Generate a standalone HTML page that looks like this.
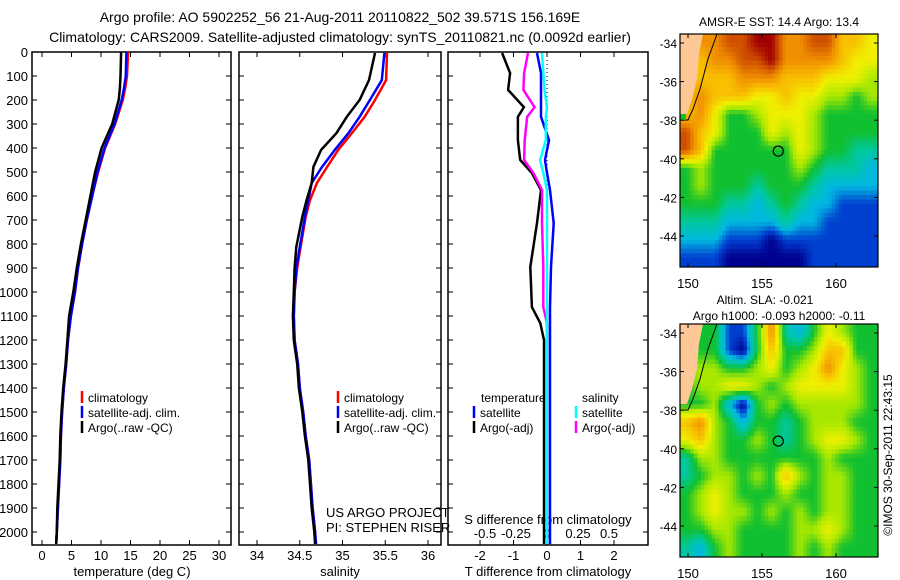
<!DOCTYPE html>
<html><head><meta charset="utf-8">
<style>
body{margin:0;background:#fff;}
svg{display:block;font-family:"Liberation Sans",sans-serif;}
text{fill:#000;}
</style></head>
<body>
<svg id="c" width="900" height="580" xmlns="http://www.w3.org/2000/svg">
<defs>
<clipPath id="m1c"><rect x="680" y="34" width="198" height="233"/></clipPath>
<clipPath id="m2c"><rect x="680" y="324" width="198" height="233"/></clipPath>
</defs>
<text x="340" y="22" font-size="14" text-anchor="middle">Argo profile: AO 5902252_56 21-Aug-2011 20110822_502 39.571S 156.169E</text>
<text x="340" y="42" font-size="14" text-anchor="middle">Climatology: CARS2009. Satellite-adjusted climatology: synTS_20110821.nc (0.0092d earlier)</text>
<g id="g"></g>
</svg>
<script>
const depths=[0,100,150,200,300,400,500,600,700,800,900,1000,1100,1200,1300,1400,1500,1600,1700,1800,1900,2000,2050];
const tClim=[14.6,14.4,14.1,13.7,12.4,10.7,9.5,8.5,7.6,6.8,6.1,5.6,4.9,4.4,4.1,3.7,3.4,3.2,3.1,2.9,2.7,2.5,2.4];
const tSat=[14.3,14.2,13.9,13.5,12.3,10.6,9.4,8.5,7.6,6.8,6.1,5.6,4.9,4.4,4.1,3.7,3.4,3.2,3.1,2.9,2.7,2.5,2.4];
const tArgo=[13.4,13.3,13.2,13.0,11.9,10.1,9.0,8.2,7.4,6.6,5.9,5.3,4.6,4.3,4.0,3.6,3.3,3.1,3.0,2.8,2.6,2.5,2.4];
const sDepths=[4,117,200,270,338,408,479,546,617,687,812,900,1000,1100,1200,1300,1400,1500,1600,1700,1800,1900,2000,2050];
const sClim=[35.52,35.51,35.38,35.26,35.11,34.95,34.82,34.70,34.62,34.57,34.51,34.47,34.44,34.43,34.44,34.48,34.5,34.54,34.57,34.61,34.63,34.65,34.68,34.69];
const sSat=[35.49,35.46,35.32,35.2,35.07,34.91,34.76,34.64,34.6,34.56,34.5,34.46,34.44,34.43,34.44,34.48,34.5,34.54,34.57,34.61,34.63,34.65,34.68,34.69];
const sArgo=[35.38,35.31,35.2,35.05,34.93,34.75,34.66,34.64,34.58,34.53,34.46,34.44,34.43,34.42,34.43,34.47,34.49,34.53,34.56,34.60,34.62,34.64,34.67,34.68];
const dDepths=[4,88,158,230,270,367,450,504,575,713,896,1063,1130,1200,1500,2050];
const dTArgo=[-1.34,-1.1,-1.16,-0.69,-0.87,-0.87,-0.8,-0.45,-0.18,-0.3,-0.5,-0.45,-0.2,-0.09,-0.09,-0.09];
const dTSat=[-0.3,-0.18,-0.18,-0.18,-0.18,0.06,-0.06,0.0,0.09,0.2,0.12,0.09,0.09,0.09,0.09,0.09];
const dSArgo=[-0.153,-0.185,-0.19,-0.1,-0.16,-0.18,-0.185,-0.11,-0.04,-0.04,-0.03,-0.03,0,0,0,0];
const dSSat=[-0.04,-0.03,-0.02,0,-0.01,-0.01,-0.056,-0.03,0,0,0,0,0,0,0,0];
const tTicks=[0,5,10,15,20,25,30];
const sTicks=[34,34.5,35,35.5,36];
const dtTicks=[-2,-1,0,1,2];
const dsTicks=[-0.5,-0.25,0,0.25,0.5];
const depthTicks=[0,100,200,300,400,500,600,700,800,900,1000,1100,1200,1300,1400,1500,1600,1700,1800,1900,2000];
const lonTicks=[150,155,160];
const latTicks=[-34,-36,-38,-40,-42,-44];
const sstGrid=[
[null,7,7,8,8,9,9,7,7,8,8,6,6,5],
[null,6,7,7,8,8,9,7,7,7,7,6,5,5],
[null,6,6,6,7,7,7,6,6,6,5,5,5,4],
[6,7,6,6,6,5,5,6,5,5,4,4,3,4],
[6,7,5,3,3,4,5,5,5,4,3,3,3,3],
[8,6,5,3,3,3,5,4,5,4,3,3,3,3],
[8,6,3,3,3,3,3,3,5,4,3,3,2,2],
[3,4,3,3,3,3,3,3,4,3,2,2,2,1],
[3,4,3,3,3,2,3,3,3,2,1,1,1,1],
[3,3,3,2,2,1,2,3,2,1,1,0,0,0],
[2,2,2,1,1,1,1,2,1,1,0,0,0,0],
[1,1,1,0,0,0,-1,0,0,0,0,0,0,0],
[0,0,0,-1,-1,-1,-1,-1,-1,0,0,0,0,0]];
const slaGrid=[
[null,3,3,0,0,3,7,2,1,3,5,4,3,3],
[null,3,3,0,-1,3,6,3,3,4,6,6,3,3],
[null,4,4,3,3,4,5,3,4,5,7,5,4,3],
[3,4,4,5,5,4,3,4,5,5,5,5,4,3],
[3,3,4,1,-1,3,4,3,4,4,4,4,4,3],
[6,7,4,3,1,3,3,2,3,4,4,4,3,3],
[5,6,4,3,3,4,3,2,3,4,5,5,4,3],
[2,4,4,3,3,3,3,3,3,3,4,3,3,3],
[2,3,4,4,3,4,3,6,4,3,4,4,3,3],
[3,4,5,4,3,3,3,4,3,3,4,4,3,3],
[3,4,5,4,4,3,4,3,4,3,4,4,3,3],
[3,3,4,4,3,3,3,3,4,4,5,4,3,3],
[2,1,3,4,3,3,3,3,4,3,4,3,3,3]];
const argoPos=[156.1,-39.6];

const NS='http://www.w3.org/2000/svg';
const G=document.getElementById('g');
function mk(t,a,p){const e=document.createElementNS(NS,t);for(const k in a)e.setAttribute(k,a[k]);(p||G).appendChild(e);return e;}
const PT=52,PB=545;
const yD=d=>PT+d*0.24;
const xT=v=>42+v*5.9;
const xS=v=>257+(v-34)*85.5;
const xDT=v=>547+v*33.5;
const xDS=v=>547+v*124;
const panels=[[32,231],[239,441],[448,648]];
panels.forEach((p,i)=>{
  const r=mk('rect',{x:p[0],y:PT,width:p[1]-p[0],height:PB-PT,fill:'none',stroke:'#000','stroke-width':1.5});
  
  
});
depthTicks.forEach(d=>{
  const t=mk('text',{x:28,y:yD(d)+5,'font-size':13,'text-anchor':'end'});t.textContent=d;
  
  
  panels.forEach(p=>{mk('line',{x1:p[0],x2:p[0]+5,y1:yD(d),y2:yD(d),stroke:'#000'});mk('line',{x1:p[1],x2:p[1]-5,y1:yD(d),y2:yD(d),stroke:'#000'});});
});
function xticks(arr,fx,y,sz,name,top){arr.forEach(v=>{
  const x=fx(v);
  if(top!==false){mk('line',{x1:x,x2:x,y1:PB,y2:PB-5,stroke:'#000'});mk('line',{x1:x,x2:x,y1:PT,y2:PT+5,stroke:'#000'});}
  const t=mk('text',{x:x,y:y,'font-size':sz,'text-anchor':'middle'});t.textContent=v;
  
  
});}
xticks(tTicks,xT,560,13,'temp-tick-label');
xticks(sTicks,xS,560,13,'salinity-tick-label');
xticks(dtTicks,xDT,560,13,'tdiff-tick-label');
xticks(dsTicks,xDS,538,13,'sdiff-tick-label',false);
function lab(x,y,s,txt,name,anchor){const t=mk('text',{x:x,y:y,'font-size':s,'text-anchor':anchor||'middle'});t.textContent=txt;
  
  return t;}
lab(132,576,13,'temperature (deg C)','temp-axis-title');
lab(340,576,13,'salinity','salinity-axis-title');
lab(548,576,13,'T difference from climatology','tdiff-axis-title');
lab(548,524,13,'S difference from climatology','sdiff-axis-title');
lab(326,517,13,'US ARGO PROJECT','project-label','start');
lab(326,532,13,'PI: STEPHEN RISER','pi-label','start');
function line(xs,ds,fx,col,name,w){
  const pts=xs.map((v,i)=>fx(v).toFixed(1)+','+yD(ds[i]).toFixed(1)).join(' ');
  const l=mk('polyline',{points:pts,fill:'none',stroke:col,'stroke-width':w||2.5});
  
  
}
line(tClim,depths,xT,'#f00','temp-climatology-line');
line(tSat,depths,xT,'#00f','temp-satellite-line');
line(tArgo,depths,xT,'#000','temp-argo-line');
line(sClim,sDepths,xS,'#f00','salinity-climatology-line');
line(sSat,sDepths,xS,'#00f','salinity-satellite-line');
line(sArgo,sDepths,xS,'#000','salinity-argo-line');
mk('line',{x1:xDT(0),x2:xDT(0),y1:PT,y2:PB,stroke:'#000','stroke-dasharray':'1,3'});
line(dTArgo,dDepths,xDT,'#000','tdiff-argo-line');
line(dTSat,dDepths,xDT,'#00f','tdiff-satellite-line');
line(dSArgo,dDepths,xDS,'#f0f','sdiff-argo-line');
line(dSSat,dDepths,xDS,'#0ff','sdiff-satellite-line');
function leg(x,y,col,txt,name){mk('line',{x1:x,x2:x,y1:y-11,y2:y+1,stroke:col,'stroke-width':2.5});lab(x+6,y,12,txt,name,'start');}
[[82,'climatology','#f00'],[82,'satellite-adj. clim.','#00f'],[82,'Argo(..raw -QC)','#000']].forEach((e,i)=>{leg(e[0],402+i*15,e[2],e[1],'legend-temp-'+i);leg(e[0]+256,402+i*15,e[2],e[1],'legend-sal-'+i);});
lab(481,402,12,'temperature','legend-tdiff-header','start');
lab(582,402,12,'salinity','legend-sdiff-header','start');
leg(474,417,'#00f','satellite','legend-tdiff-sat');
leg(474,432,'#000','Argo(-adj)','legend-tdiff-argo');
leg(576,417,'#0ff','satellite','legend-sdiff-sat');
leg(576,432,'#f0f','Argo(-adj)','legend-sdiff-argo');
// maps
const palStops=[[0,0,143],[0,64,208],[0,184,224],[0,200,160],[16,192,48],[168,232,0],[240,240,0],[248,192,0],[240,144,0],[208,80,0],[160,0,0]];
function colorOf(v){let t=Math.max(-1,Math.min(9,v))+1;const i=Math.min(9,Math.floor(t));const f=t-i;
  const a=palStops[i],b=palStops[i+1];return 'rgb('+a.map((c,k)=>Math.round(c+(b[k]-c)*f)).join(',')+')';}
const lonX=l=>688+(l-150)*14.8;
function map(grid,top,clip,name){
  const latY=la=>top+9+(-34-la)*19.3;
  const g=mk('g',{'clip-path':'url(#'+clip+')'});
  
  
  const R=grid.length,C=grid[0].length;
  const vals=grid.map(row=>row.map((v,c)=>v===null?(row[c+1]===null?row[c+2]:row[c+1]):v));
  const cw=198/C,ch=233/R,S=4;
  const at=(r,c)=>vals[Math.max(0,Math.min(R-1,r))][Math.max(0,Math.min(C-1,c))];
  for(let r=0;r<R;r++)for(let c=0;c<C;c++)for(let i=0;i<S;i++)for(let j=0;j<S;j++){
    const fr=r+(i+0.5)/S-0.5,fc=c+(j+0.5)/S-0.5;
    const r0=Math.floor(fr),c0=Math.floor(fc),dr=fr-r0,dc=fc-c0;
    const v=at(r0,c0)*(1-dr)*(1-dc)+at(r0,c0+1)*(1-dr)*dc+at(r0+1,c0)*dr*(1-dc)+at(r0+1,c0+1)*dr*dc;
    const cell=mk('rect',{x:(680+c*cw+j*cw/S-0.3).toFixed(2),y:(top+r*ch+i*ch/S-0.3).toFixed(2),width:(cw/S+0.6).toFixed(2),height:(ch/S+0.6).toFixed(2),fill:colorOf(v)},g);
    
    
  }
  const land=mk('polygon',{points:`680,${top} 703,${top} 699,${top+20} 697,${top+45} 692,${top+65} 687,${top+80} 680,${top+80}`,fill:'#fdc896'},g);
  
  
  mk('polyline',{points:`717,${top} 708,${top+25} 700,${top+55} 693,${top+75} 688,${top+86} 680,${top+86}`,fill:'none',stroke:'#000','stroke-width':1},g);
  if(top<100)mk('polygon',{points:`680,${top+80} 686,${top+80} 686,${top+86} 680,${top+86}`,fill:'#10c030'},g);
  mk('rect',{x:680,y:top,width:198,height:233,fill:'none',stroke:'#000','stroke-width':1.2});
  const cir=mk('circle',{cx:lonX(argoPos[0]),cy:latY(argoPos[1]),r:5,fill:'none',stroke:'#000','stroke-width':1.2});
  
  
  latTicks.forEach(la=>{const y=latY(la);mk('line',{x1:680,x2:684,y1:y,y2:y,stroke:'#000'});mk('line',{x1:878,x2:874,y1:y,y2:y,stroke:'#000'});
    lab(677,y+5,12,la,'lat-tick-label','end');});
  lonTicks.forEach(lo=>{const x=lonX(lo);mk('line',{x1:x,x2:x,y1:top,y2:top+4,stroke:'#000'});mk('line',{x1:x,x2:x,y1:top+233,y2:top+229,stroke:'#000'});
    lab(x,top+254,13,lo,'lon-tick-label');});
}
map(sstGrid,34,'m1c','sst-map');
lab(779,26,12,'AMSR-E SST: 14.4  Argo: 13.4','sst-map-title');
map(slaGrid,324,'m2c','sla-map');
lab(765,304,12,'Altim. SLA: -0.021','sla-map-title');
lab(779,320,12,'Argo h1000: -0.093 h2000: -0.11','sla-map-subtitle');
const r=lab(892,455,12,'\u00A9IMOS 30-Sep-2011 22:43:15','timestamp-label');
r.setAttribute('transform','rotate(-90 892 455)');
</script>
</body></html>
